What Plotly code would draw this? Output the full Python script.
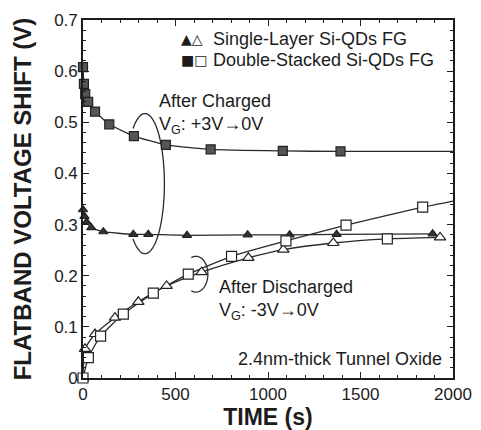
import numpy as np
import plotly.graph_objects as go

# ---------------- data ----------------
# After charged (VG: +3V -> 0V)
ds_chg_t = [0, 5, 12, 28, 65, 142, 275, 448, 690, 1080, 1392]
ds_chg_v = [0.608, 0.575, 0.555, 0.540, 0.521, 0.496, 0.473, 0.456, 0.447, 0.444, 0.443]
ds_chg_line_t = [0, 5, 12, 28, 65, 142, 275, 448, 690, 1080, 1392, 2000]
ds_chg_line_v = [0.608, 0.575, 0.555, 0.540, 0.521, 0.496, 0.473, 0.456, 0.447, 0.444, 0.443, 0.443]

sl_chg_t = [0, 8, 20, 45, 110, 272, 353, 562, 890, 1117, 1371, 1890]
sl_chg_v = [0.329, 0.316, 0.305, 0.294, 0.286, 0.281, 0.281, 0.279, 0.280, 0.280, 0.281, 0.282]

# After discharged (VG: -3V -> 0V)
ds_dis_t = [0, 29, 95, 218, 380, 569, 803, 1097, 1422, 1645, 1836]
ds_dis_v = [0.0, 0.040, 0.082, 0.125, 0.166, 0.203, 0.238, 0.268, 0.299, 0.272, 0.334]
ds_dis_line_t = [0, 29, 95, 218, 380, 569, 803, 1097, 1422, 1836, 2000]
ds_dis_line_v = [0.0, 0.040, 0.082, 0.125, 0.166, 0.203, 0.238, 0.268, 0.299, 0.334, 0.346]

sl_dis_t = [0, 11, 65, 173, 299, 452, 641, 894, 1083, 1353, 1930]
sl_dis_v = [0.0, 0.057, 0.086, 0.118, 0.149, 0.180, 0.207, 0.235, 0.251, 0.264, 0.275]
sl_dis_line_t = [0, 11, 65, 173, 299, 452, 641, 894, 1083, 1353, 1645, 1930]
sl_dis_line_v = [0.0, 0.057, 0.086, 0.118, 0.149, 0.180, 0.207, 0.235, 0.251, 0.264, 0.272, 0.275]

x_ticks = [0, 500, 1000, 1500, 2000]
y_ticks = [0, 0.1, 0.2, 0.3, 0.4, 0.5, 0.6, 0.7]

FONT = "Liberation Sans, Arial, sans-serif"
INK = "#1c1c1c"
LINE = "#2a2a2a"

fig = go.Figure()

def add_line(t, v):
    fig.add_trace(go.Scatter(x=t, y=v, mode="lines",
                             line=dict(color=LINE, width=1.3, shape="spline", smoothing=0.5),
                             showlegend=False, hoverinfo="skip", cliponaxis=False))

add_line(ds_chg_line_t, ds_chg_line_v)
add_line(sl_chg_t, sl_chg_v)
add_line(ds_dis_line_t, ds_dis_line_v)
add_line(sl_dis_line_t, sl_dis_line_v)

def add_markers(t, v, symbol, size, fill, name):
    fig.add_trace(go.Scatter(x=t, y=v, mode="markers", name=name,
                             marker=dict(symbol=symbol, size=size, color=fill,
                                         line=dict(color="#222222", width=1.2)),
                             showlegend=False, cliponaxis=False))

add_markers(sl_chg_t, sl_chg_v, "triangle-up", 8, "#333333", "Single-Layer charged")
add_markers(ds_chg_t, ds_chg_v, "square", 9, "#555555", "Double-Stacked charged")
add_markers(sl_dis_t, sl_dis_v, "triangle-up", 10, "white", "Single-Layer discharged")
add_markers(ds_dis_t, ds_dis_v, "square", 10, "white", "Double-Stacked discharged")

# ---------------- ellipses (brackets) ----------------
def arc_path(cx, cy, rx, ry, a0, a1, n=60):
    th = np.radians(np.linspace(a0, a1, n))
    xs = cx + rx * np.cos(th)
    ys = cy + ry * np.sin(th)
    return "M " + " L ".join(f"{x:.2f},{y:.4f}" for x, y in zip(xs, ys))

fig.add_shape(type="path", xref="x", yref="y",
              path=arc_path(335, 0.380, 105, 0.137, 128, -128),
              line=dict(color=LINE, width=1.3))
fig.add_shape(type="path", xref="x", yref="y",
              path=arc_path(610, 0.203, 65, 0.035, 112, -112),
              line=dict(color=LINE, width=1.3))

# ---------------- texts ----------------
def txt(x, y, s, anchor="left", size=18, xref="x", yref="y", family=FONT):
    fig.add_annotation(x=x, y=y, xref=xref, yref=yref, text=s, showarrow=False,
                       xanchor=anchor, yanchor="middle", align="left",
                       font=dict(family=family, size=size, color=INK))

txt(402, 0.516, "After Charged<br>V<sub>G</sub>: +3V→0V", size=18)
txt(724, 0.153, "After Discharged<br>V<sub>G</sub>: -3V→0V", size=18)
txt(1950, 0.037, "2.4nm-thick Tunnel Oxide", anchor="right")

# legend drawn as text with marker glyphs
txt(518, 0.662, "▲△", size=14, family="DejaVu Sans")
txt(690, 0.662, "Single-Layer Si-QDs FG")
txt(518, 0.622, "■□", size=14, family="DejaVu Sans")
txt(690, 0.622, "Double-Stacked Si-QDs FG")

axis_common = dict(showline=True, linecolor=INK, linewidth=1.6, mirror="allticks",
                   ticks="inside", ticklen=6, tickwidth=1.2, tickcolor=INK,
                   showgrid=False, zeroline=False, automargin=False,
                   tickfont=dict(family=FONT, size=17, color=INK))

fig.update_xaxes(range=[0, 2000], tickvals=x_ticks,
                 minor=dict(dtick=100, ticks="inside", ticklen=3, tickcolor=INK, showgrid=False),
                 title=dict(text="<b>TIME (s)</b>", standoff=17,
                            font=dict(family=FONT, size=23, color=INK)),
                 **axis_common)
fig.update_yaxes(range=[0, 0.7], tickvals=y_ticks,
                 minor=dict(dtick=0.02, ticks="inside", ticklen=3, tickcolor=INK, showgrid=False),
                 title=dict(text="<b>FLATBAND VOLTAGE SHIFT (V)</b>", standoff=16,
                            font=dict(family=FONT, size=24, color=INK)),
                 **axis_common)

fig.update_layout(width=481, height=430,
                  margin=dict(l=83, r=28, t=20, b=52),
                  plot_bgcolor="white", paper_bgcolor="white",
                  showlegend=False)

fig.write_html("out.html")
